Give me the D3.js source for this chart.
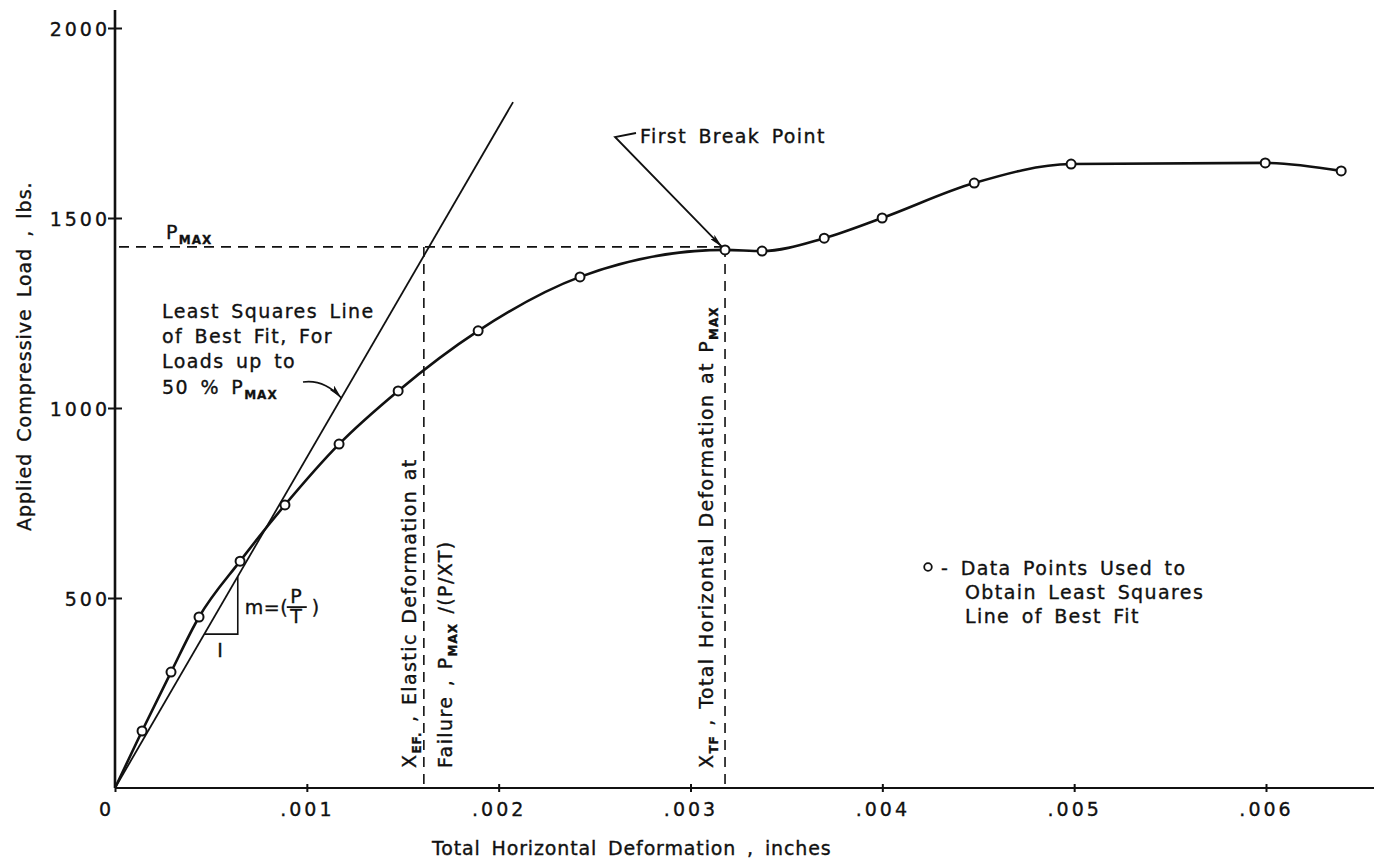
<!DOCTYPE html>
<html>
<head>
<meta charset="utf-8">
<script src="https://cdn.jsdelivr.net/npm/d3@7"></script>
<style>
    body { margin: 0; background: #fff; }
    svg { display: block; }
    text { font-family: 'DejaVu Sans', sans-serif; fill: #111; stroke: #111; stroke-width: 0.35px; }
    .tick text { font-size: 19px; letter-spacing: 3px; }
    .note { font-size: 19px; letter-spacing: 1.4px; word-spacing: 4px; }
    .sub { font-size: 12px; font-weight: bold; letter-spacing: 1px; }
</style>
</head>
<body>
<svg id="chart"></svg>
<script>
// deformation (inches) and load (lbs)
const deformX = [0, 0.000141, 0.000292, 0.000438, 0.000652, 0.000886, 0.001168, 0.001476,
    0.001893, 0.002424, 0.003180, 0.003373, 0.003697, 0.003999, 0.004479, 0.004984,
    0.005996, 0.006392];
const loadY = [0, 150, 305, 450, 597, 745, 905, 1045, 1203, 1345, 1416, 1413, 1447, 1500,
    1592, 1642, 1645, 1624];

// least squares line of best fit (end points)
const lsqX = [0, 0.002075];
const lsqY = [0, 1805];

// reference values
const pMax = 1424;
const xEF = 0.00161;
const xTF = 0.00318;
const slopeTriX = 0.00064;
const slopeTriY = 405;

const xTicks = [0, 0.001, 0.002, 0.003, 0.004, 0.005, 0.006];
const yTicks = [500, 1000, 1500, 2000];

const width = 1374, height = 866;
const margin = { top: 28, right: 108, bottom: 78, left: 115 };

const svg = d3.select('#chart')
    .attr('width', width)
    .attr('height', height);

const x = d3.scaleLinear()
    .domain([0, 0.006])
    .range([margin.left, width - margin.right]);

const y = d3.scaleLinear()
    .domain([0, 2000])
    .range([height - margin.bottom, margin.top]);

// arrow head
svg.append('defs').append('marker')
    .attr('id', 'arrow')
    .attr('viewBox', '0 0 14 6')
    .attr('refX', 14).attr('refY', 3)
    .attr('markerWidth', 16).attr('markerHeight', 6)
    .attr('markerUnits', 'userSpaceOnUse')
    .attr('orient', 'auto')
    .append('path')
    .attr('d', 'M0,0 L14,3 L0,6 L3,3 Z')
    .attr('fill', '#111');

// axes
const xAxis = d3.axisBottom(x)
    .tickValues(xTicks)
    .tickSize(0)
    .tickPadding(15)
    .tickFormat(d => d === 0 ? '0' : d3.format('.3f')(d).replace(/^0/, ''));

const yAxis = d3.axisLeft(y)
    .tickValues(yTicks)
    .tickSize(0)
    .tickPadding(5)
    .tickFormat(d3.format('d'));

const xAxisG = svg.append('g')
    .attr('transform', `translate(0, ${y(0)})`)
    .call(xAxis);

const yAxisG = svg.append('g')
    .attr('transform', `translate(${x(0)}, 0)`)
    .call(yAxis);

[xAxisG, yAxisG].forEach(g => g.select('.domain').remove());

// cross ticks
xAxisG.selectAll('.tick line')
    .attr('y1', -4).attr('y2', 4)
    .attr('stroke', '#111').attr('stroke-width', 2);
yAxisG.selectAll('.tick line')
    .attr('x1', -7).attr('x2', 7)
    .attr('stroke', '#111').attr('stroke-width', 2);
xAxisG.selectAll('.tick text')
    .attr('dx', d => d === 0 ? -9 : 0);
yAxisG.selectAll('.tick text')
    .attr('dy', '0.38em');

// axis lines, y runs a bit past 2000 and x runs to the edge
svg.append('line')
    .attr('x1', x(0)).attr('x2', x(0))
    .attr('y1', y(0)).attr('y2', margin.top - 18)
    .attr('stroke', '#111').attr('stroke-width', 2.6);
svg.append('line')
    .attr('x1', x(0)).attr('x2', width)
    .attr('y1', y(0)).attr('y2', y(0))
    .attr('stroke', '#111').attr('stroke-width', 2.2);

// axis titles
svg.append('text')
    .attr('x', 632).attr('y', 855)
    .attr('text-anchor', 'middle')
    .attr('class', 'note')
    .attr('textLength', 400)
    .attr('lengthAdjust', 'spacing')
    .text('Total  Horizontal  Deformation , inches');

svg.append('text')
    .attr('transform', 'translate(31, 356) rotate(-90)')
    .attr('text-anchor', 'middle')
    .attr('class', 'note')
    .attr('textLength', 350)
    .attr('lengthAdjust', 'spacing')
    .text('Applied  Compressive  Load , lbs.');

// dashed reference lines
const dashed = { stroke: '#111', 'stroke-width': 1.6, 'stroke-dasharray': '10,7', fill: 'none' };

const setAttrs = (sel, attrs) => {
    Object.entries(attrs).forEach(([k, v]) => sel.attr(k, v));
    return sel;
};

setAttrs(svg.append('line')
    .attr('x1', x(0) + 4).attr('x2', x(xTF))
    .attr('y1', y(pMax)).attr('y2', y(pMax)), dashed);

setAttrs(svg.append('line')
    .attr('x1', x(xEF)).attr('x2', x(xEF))
    .attr('y1', y(pMax)).attr('y2', y(0)), dashed);

setAttrs(svg.append('line')
    .attr('x1', x(xTF)).attr('x2', x(xTF))
    .attr('y1', y(pMax)).attr('y2', y(0)), dashed);

// least squares line
const lsqLine = d3.line()
    .x(d => x(d[0]))
    .y(d => y(d[1]));

svg.append('path')
    .datum(d3.zip(lsqX, lsqY))
    .attr('d', lsqLine)
    .attr('fill', 'none')
    .attr('stroke', '#111')
    .attr('stroke-width', 1.8);

// slope triangle under the least squares line
const lsqSlope = lsqY[1] / lsqX[1];
svg.append('path')
    .datum([[slopeTriY / lsqSlope, slopeTriY], [slopeTriX, slopeTriY], [slopeTriX, slopeTriX * lsqSlope]])
    .attr('d', lsqLine)
    .attr('fill', 'none')
    .attr('stroke', '#111')
    .attr('stroke-width', 1.6);

svg.append('text')
    .attr('x', x(slopeTriX) - 17).attr('y', y(slopeTriY) + 23)
    .attr('class', 'note')
    .attr('text-anchor', 'middle')
    .text('I');

const slopeLabel = svg.append('g')
    .attr('transform', `translate(${x(slopeTriX) + 7}, ${y(slopeTriY) - 20})`);
slopeLabel.append('text').attr('class', 'note').attr('x', 0).attr('y', 0)
    .style('letter-spacing', '0.5px').style('word-spacing', '0px').text('m=(');
slopeLabel.append('text').attr('class', 'note').attr('x', 52).attr('y', -11).attr('text-anchor', 'middle').text('P');
slopeLabel.append('line')
    .attr('x1', 42).attr('x2', 62).attr('y1', -7).attr('y2', -7)
    .attr('stroke', '#111').attr('stroke-width', 1.8);
slopeLabel.append('text').attr('class', 'note').attr('x', 52).attr('y', 9).attr('text-anchor', 'middle').text('T');
slopeLabel.append('text').attr('class', 'note').attr('x', 67).attr('y', 0).text(')');

// load curve
const curve = d3.line()
    .x(d => x(d[0]))
    .y(d => y(d[1]))
    .curve(d3.curveMonotoneX);

const points = d3.zip(deformX, loadY);

svg.append('path')
    .datum(points)
    .attr('d', curve)
    .attr('fill', 'none')
    .attr('stroke', '#111')
    .attr('stroke-width', 2.6);

svg.append('g')
    .selectAll('circle')
    .data(points.slice(1))
    .join('circle')
    .attr('cx', d => x(d[0]))
    .attr('cy', d => y(d[1]))
    .attr('r', 4.5)
    .attr('fill', '#fff')
    .attr('stroke', '#111')
    .attr('stroke-width', 2);

// P max label
const pLabel = svg.append('text')
    .attr('class', 'note')
    .attr('x', 166).attr('y', y(pMax) - 8);
pLabel.append('tspan').text('P');
pLabel.append('tspan').attr('class', 'sub').attr('dy', 5).text('MAX');

// least squares note
const lsqNote = svg.append('text')
    .attr('class', 'note')
    .attr('x', 162).attr('y', 318);
['Least  Squares Line', 'of  Best  Fit, For', 'Loads  up  to'].forEach((t, i) => {
    lsqNote.append('tspan').attr('x', 162).attr('dy', i === 0 ? 0 : 25).text(t);
});
lsqNote.append('tspan').attr('x', 162).attr('dy', 26).text('50 %  P');
lsqNote.append('tspan').attr('class', 'sub').attr('dy', 5).text('MAX');

svg.append('path')
    .attr('d', `M303,382 Q324,379 ${x(0.00118)},${y(0.00118 * lsqSlope)}`)
    .attr('fill', 'none')
    .attr('stroke', '#111')
    .attr('stroke-width', 1.6)
    .attr('marker-end', 'url(#arrow)');

// first break point
svg.append('text')
    .attr('class', 'note')
    .attr('x', 640).attr('y', 143)
    .text('First  Break  Point');

svg.append('path')
    .attr('d', `M636,133 L615,137 L${x(xTF) - 3},${y(1416) - 3}`)
    .attr('fill', 'none')
    .attr('stroke', '#111')
    .attr('stroke-width', 1.8)
    .attr('marker-end', 'url(#arrow)');

// vertical notes along the dashed lines
const efNote = svg.append('g')
    .attr('transform', `translate(${x(xEF) - 8}, 768) rotate(-90)`);
const ef1 = efNote.append('text').attr('class', 'note').attr('x', 0).attr('y', 0)
    .style('word-spacing', '2px');
ef1.append('tspan').text('X');
ef1.append('tspan').attr('class', 'sub').attr('dy', 5).text('EF.');
ef1.append('tspan').attr('dy', -5).text(' ,  Elastic  Deformation  at');

const ef2 = efNote.append('text').attr('class', 'note').attr('x', 0).attr('y', 36)
    .style('word-spacing', '2px');
ef2.append('tspan').text('Failure , P');
ef2.append('tspan').attr('class', 'sub').attr('dy', 5).text('MAX');
ef2.append('tspan').attr('dy', -5).text(' /(P/XT)');

const tfNote = svg.append('g')
    .attr('transform', `translate(${x(xTF) - 12}, 768) rotate(-90)`);
const tf1 = tfNote.append('text').attr('class', 'note').attr('x', 0).attr('y', 0)
    .style('word-spacing', '2px');
tf1.append('tspan').text('X');
tf1.append('tspan').attr('class', 'sub').attr('dy', 5).text('TF');
tf1.append('tspan').attr('dy', -5).text(' ,  Total  Horizontal  Deformation  at  P');
tf1.append('tspan').attr('class', 'sub').attr('dy', 5).text('MAX');

// legend
svg.append('circle')
    .attr('cx', 928).attr('cy', 567)
    .attr('r', 3.8)
    .attr('fill', '#fff')
    .attr('stroke', '#111')
    .attr('stroke-width', 1.8);

svg.append('text')
    .attr('class', 'note')
    .attr('x', 941).attr('y', 575)
    .text('-  Data  Points  Used  to');

const legendNote = svg.append('text')
    .attr('class', 'note')
    .attr('x', 965).attr('y', 599);
['Obtain  Least  Squares', 'Line  of  Best  Fit'].forEach((t, i) => {
    legendNote.append('tspan').attr('x', 965).attr('dy', i === 0 ? 0 : 24).text(t);
});
</script>
</body>
</html>
